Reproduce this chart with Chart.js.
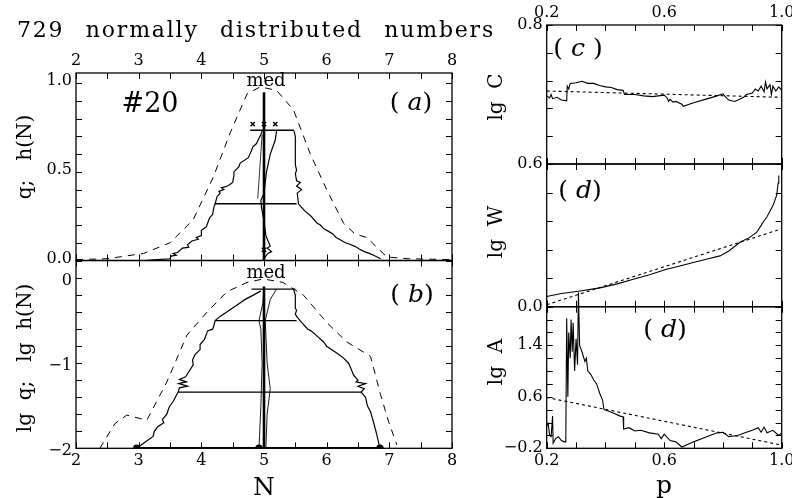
<!DOCTYPE html>
<html lang="en">
<head>
<meta charset="UTF-8">
<title>729 normally distributed numbers</title>
<script src="https://cdn.jsdelivr.net/npm/chart.js"></script>
<style>
    body { margin: 0; background: #fff; }
    #wrap { position: relative; width: 792px; height: 498px; overflow: hidden; }
    canvas { position: absolute; left: 0; top: 0; }
    .t { position: absolute; font-family: 'DejaVu Serif', serif; color: #000; white-space: pre; transform: translate(-50%, -50%); line-height: 1; }
    .rot { transform: translate(-50%, -50%) rotate(-90deg); }
    .it { font-style: italic; }
</style>
</head>
<body>
<div id="wrap">
    <canvas id="cA" width="792" height="498"></canvas>
    <canvas id="cB" width="792" height="498"></canvas>
    <canvas id="cC" width="792" height="498"></canvas>
    <canvas id="cW" width="792" height="498"></canvas>
    <canvas id="cP" width="792" height="498"></canvas>

    <div id="title" class="t" style="left:17px; top:30px; transform:translate(0,-50%); font-size:22px; letter-spacing:1.8px;">729 normally distributed numbers</div>
    <div class="t rot" style="left:24px; top:157px; font-size:20px;">q;   h(N)</div>
    <div class="t rot" style="left:24px; top:358px; font-size:20px;">lg  q;   lg  h(N)</div>
    <div class="t" style="left:264px; top:486px; font-size:25px;">N</div>
    <div class="t" style="left:664px; top:484px; font-size:25px;">p</div>
    <div class="t rot" style="left:495px; top:97px; font-size:20px;">lg  C</div>
    <div class="t rot" style="left:495px; top:232px; font-size:20px;">lg  W</div>
    <div class="t rot" style="left:495px; top:362px; font-size:20px;">lg  A</div>

    <div class="t" style="left:150px; top:102px; font-size:27px;">#20</div>
    <div class="t" style="left:411px; top:101px; font-size:25px;">( <span class="it">a</span>)</div>
    <div class="t" style="left:412px; top:293px; font-size:25px;">( <span class="it">b</span>)</div>
    <div class="t" style="left:578px; top:47px; font-size:25px;">( <span class="it">c</span> )</div>
    <div class="t" style="left:580px; top:189px; font-size:25px;">( <span class="it">d</span>)</div>
    <div class="t" style="left:665px; top:328px; font-size:25px;">( <span class="it">d</span>)</div>
    <div class="t" style="left:266px; top:80px; font-size:18px;">med</div>
    <div class="t" style="left:266px; top:272px; font-size:18px;">med</div>
</div>

<script>
// ---- tick labels ----
const nLabels = [2, 3, 4, 5, 6, 7, 8];
const pLabels = [0.2, 0.6, 1.0];
const hLabels = [0.0, 0.5, 1.0];
const lgHLabels = [0, -1, -2];
const cLabels = [0.6, 0.8];
const wLabels = [0.0];
const aLabels = [-0.2, 0.6, 1.4];

// ---- (a) q; h(N) ----
const hDash = [[2.0,0.005],[2.5,0.01],[3.08,0.04],[3.5,0.10],[3.87,0.23],[4.19,0.47],[4.46,0.72],[4.73,0.94],[4.94,0.98],[5.2,0.96],[5.47,0.85],[5.74,0.60],[6.0,0.40],[6.27,0.21],[6.45,0.15],[6.64,0.13],[6.96,0.02],[7.3,0.01],[8.0,0.005]];
const hLeft = [[3.1,0.0],[3.3,0.005],[3.5,0.01],[3.52,0.025],[3.6,0.03],[3.55,0.04],[3.62,0.045],[3.7,0.07],[3.8,0.075],[3.78,0.09],[3.85,0.11],[3.95,0.12],[3.92,0.13],[4.0,0.14],[4.0,0.17],[4.08,0.19],[4.1,0.21],[4.13,0.24],[4.18,0.26],[4.2,0.30],[4.22,0.32],[4.25,0.36],[4.3,0.38],[4.28,0.39],[4.36,0.40],[4.32,0.41],[4.42,0.42],[4.5,0.44],[4.52,0.48],[4.52,0.50],[4.6,0.53],[4.62,0.55],[4.75,0.58],[4.8,0.62],[4.82,0.64],[4.88,0.66],[4.92,0.69],[4.95,0.71],[4.97,0.73]];
const hRight = [[5.48,0.73],[5.5,0.70],[5.5,0.60],[5.5,0.54],[5.52,0.51],[5.5,0.49],[5.52,0.45],[5.58,0.44],[5.52,0.42],[5.6,0.40],[5.53,0.38],[5.55,0.32],[5.6,0.30],[5.65,0.28],[5.72,0.26],[5.75,0.25],[5.8,0.23],[5.85,0.21],[5.9,0.20],[5.95,0.18],[6.05,0.16],[6.1,0.15],[6.15,0.13],[6.2,0.12],[6.3,0.10],[6.38,0.09],[6.45,0.08],[6.52,0.065],[6.6,0.05],[6.68,0.04],[6.75,0.03],[6.86,0.01]];
const hMid = [[4.98,0.0],[5.06,0.04],[5.12,0.05],[5.05,0.07],[5.1,0.08],[5.03,0.14],[5.0,0.22],[4.96,0.30],[4.95,0.34],[5.0,0.38],[5.04,0.50],[5.1,0.60],[5.18,0.68],[5.2,0.73]];
const hThin = [[4.9,0.35],[4.97,0.71]];
const hLevels = [[4.78, 5.48, 0.735], [4.22, 5.52, 0.32]];
const hMed = [[5.0,0.0],[5.0,0.95]];
const hMarks = [[4.82,0.77],[5.0,0.77],[5.18,0.77],[5.0,0.06]];

// ---- (b) lg q; lg h(N) ----
const gDash = [[2.38,-2.0],[2.62,-1.71],[2.81,-1.61],[3.13,-1.67],[3.45,-1.22],[3.77,-0.67],[4.09,-0.40],[4.41,-0.16],[4.73,-0.05],[4.99,-0.01],[5.3,-0.05],[5.63,-0.20],[6.0,-0.52],[6.32,-0.75],[6.59,-0.87],[6.7,-0.92],[6.86,-1.37],[6.99,-1.69],[7.12,-1.96]];
const gLeft = [[2.97,-2.0],[3.1,-1.93],[3.23,-1.86],[3.25,-1.80],[3.3,-1.75],[3.4,-1.70],[3.38,-1.66],[3.45,-1.60],[3.48,-1.53],[3.5,-1.50],[3.55,-1.45],[3.6,-1.38],[3.63,-1.34],[3.65,-1.29],[3.78,-1.27],[3.64,-1.24],[3.76,-1.22],[3.65,-1.19],[3.75,-1.16],[3.8,-1.10],[3.87,-1.02],[3.86,-0.96],[3.9,-0.90],[3.98,-0.84],[3.98,-0.78],[4.05,-0.72],[4.1,-0.62],[4.18,-0.60],[4.2,-0.56],[4.22,-0.50],[4.3,-0.45],[4.4,-0.40],[4.5,-0.35],[4.6,-0.30],[4.7,-0.25],[4.83,-0.20],[4.95,-0.15]];
const gRight = [[5.47,-0.13],[5.5,-0.20],[5.5,-0.35],[5.52,-0.38],[5.5,-0.42],[5.52,-0.45],[5.6,-0.52],[5.7,-0.60],[5.75,-0.62],[5.83,-0.67],[5.95,-0.75],[6.0,-0.80],[6.1,-0.85],[6.2,-0.90],[6.27,-0.94],[6.35,-1.0],[6.38,-1.05],[6.43,-1.14],[6.5,-1.20],[6.47,-1.22],[6.62,-1.24],[6.5,-1.27],[6.6,-1.30],[6.55,-1.34],[6.62,-1.40],[6.65,-1.50],[6.7,-1.57],[6.75,-1.70],[6.8,-1.84],[6.85,-2.0]];
const gMidL = [[4.92,-2.0],[4.95,-1.5],[4.97,-1.0],[4.95,-0.6],[4.92,-0.5],[4.98,-0.3],[5.0,-0.13]];
const gMidR = [[5.03,-2.0],[5.05,-1.6],[5.1,-1.3],[5.05,-1.0],[5.02,-0.5],[5.1,-0.25],[5.2,-0.13]];
const gLevels = [[4.8, 5.5, -0.13], [4.22, 5.52, -0.50], [3.63, 6.55, -1.34]];
const gBase = [[2.97,-2.0],[4.92,-2.0],[6.85,-2.0]];
const gMed = [[5.0,-2.0],[5.0,-0.1]];

// ---- (c) lg C ----
const cLine = [[0.2,0.698],[0.21,0.695],[0.215,0.700],[0.22,0.694],[0.235,0.696],[0.25,0.692],[0.268,0.691],[0.27,0.712],[0.275,0.708],[0.28,0.716],[0.30,0.717],[0.32,0.719],[0.34,0.716],[0.36,0.716],[0.38,0.713],[0.40,0.711],[0.42,0.710],[0.44,0.707],[0.46,0.706],[0.465,0.700],[0.50,0.700],[0.53,0.698],[0.56,0.697],[0.58,0.698],[0.60,0.699],[0.61,0.695],[0.615,0.690],[0.62,0.693],[0.63,0.689],[0.64,0.690],[0.66,0.686],[0.665,0.683],[0.70,0.688],[0.74,0.693],[0.78,0.698],[0.80,0.701],[0.81,0.696],[0.82,0.692],[0.84,0.690],[0.86,0.694],[0.87,0.696],[0.88,0.700],[0.90,0.702],[0.91,0.708],[0.92,0.705],[0.93,0.712],[0.94,0.704],[0.945,0.718],[0.95,0.708],[0.96,0.714],[0.965,0.700],[0.97,0.712],[0.98,0.705],[0.99,0.711],[1.0,0.706]];
const cFit = [[0.2,0.705],[1.0,0.696]];

// ---- (d) lg W ----
const wLine = [[0.2,0.036],[0.25,0.046],[0.308,0.054],[0.381,0.066],[0.44,0.080],[0.495,0.096],[0.55,0.112],[0.608,0.131],[0.65,0.142],[0.699,0.155],[0.75,0.168],[0.790,0.178],[0.82,0.195],[0.858,0.226],[0.89,0.242],[0.915,0.261],[0.93,0.285],[0.937,0.297],[0.95,0.315],[0.971,0.356],[0.983,0.391],[0.988,0.433],[0.99,0.46]];
const wFit = [[0.2,0.007],[1.0,0.273]];

// ---- (d) lg A ----
const aLine = [[0.2,0.15],[0.205,0.19],[0.21,0.0],[0.215,-0.02],[0.22,0.30],[0.222,-0.12],[0.23,-0.05],[0.24,-0.02],[0.25,-0.08],[0.26,-0.10],[0.265,-0.10],[0.268,1.82],[0.272,0.60],[0.275,1.60],[0.28,1.20],[0.283,1.80],[0.287,1.30],[0.29,1.75],[0.295,1.00],[0.30,1.50],[0.305,1.10],[0.308,2.22],[0.312,1.40],[0.32,1.30],[0.33,1.15],[0.335,1.20],[0.34,1.00],[0.35,0.95],[0.36,0.86],[0.37,0.80],[0.38,0.66],[0.39,0.55],[0.395,0.40],[0.41,0.38],[0.43,0.34],[0.45,0.30],[0.46,0.29],[0.462,0.10],[0.48,0.12],[0.50,0.07],[0.52,0.08],[0.55,0.04],[0.58,0.02],[0.59,-0.05],[0.60,0.02],[0.62,-0.08],[0.64,-0.10],[0.66,-0.18],[0.70,-0.10],[0.74,-0.03],[0.78,0.04],[0.80,0.05],[0.82,-0.02],[0.85,0.0],[0.88,0.05],[0.90,0.08],[0.92,0.12],[0.93,0.05],[0.94,0.13],[0.95,0.04],[0.97,0.08],[0.99,0.0],[1.0,0.04]];
const aFit = [[0.2,0.59],[1.0,-0.15]];

const W = 792, H = 498;
const FONT = "'DejaVu Serif', serif";

function pts(arr) { return arr.map(p => ({ x: p[0], y: p[1] })); }
function line(arr, opts) {
    return Object.assign({ data: pts(arr), showLine: true, pointRadius: 0, borderColor: '#000', borderWidth: 1.2, fill: false }, opts || {});
}
function levels(arr, w) {
    return arr.map(l => line([[l[0], l[2]], [l[1], l[2]]], { borderWidth: w }));
}
function range(a, b, s) { const out = []; for (let v = a; v <= b + 1e-9; v += s) out.push(+v.toFixed(4)); return out; }
function fmt(v, d) { const s = d ? Math.abs(v).toFixed(d) : String(Math.abs(v)); return (v < 0 ? '\u2212' : '') + s; }

// frame with inward ticks on four sides and tick labels
const framePlugin = {
    id: 'frame',
    afterDatasetsDraw(chart, args, o) {
        const ctx = chart.ctx, a = chart.chartArea, xs = chart.scales.x, ys = chart.scales.y;
        ctx.save();
        ctx.strokeStyle = '#000';
        ctx.lineWidth = 1.3;
        ctx.strokeRect(a.left, a.top, a.right - a.left, a.bottom - a.top);
        ctx.lineWidth = 1;
        ctx.beginPath();
        o.xTicks.forEach(v => {
            const px = Math.round(xs.getPixelForValue(v)) + 0.5;
            ctx.moveTo(px, a.bottom); ctx.lineTo(px, a.bottom - 6);
            ctx.moveTo(px, a.top); ctx.lineTo(px, a.top + 6);
        });
        o.yTicks.forEach(v => {
            const py = Math.round(ys.getPixelForValue(v)) + 0.5;
            ctx.moveTo(a.left, py); ctx.lineTo(a.left + 6, py);
            ctx.moveTo(a.right, py); ctx.lineTo(a.right - 6, py);
        });
        ctx.stroke();
        ctx.fillStyle = '#000';
        ctx.font = '16px ' + FONT;
        ctx.textAlign = 'center';
        ctx.textBaseline = 'middle';
        (o.xTop || []).forEach(v => ctx.fillText(fmt(v, o.xDec), xs.getPixelForValue(v), a.top - 12));
        (o.xBottom || []).forEach(v => ctx.fillText(fmt(v, o.xDec), xs.getPixelForValue(v), a.bottom + 13));
        ctx.textAlign = 'right';
        (o.yLeft || []).forEach(v => ctx.fillText(fmt(v, o.yDec), a.left - 4, ys.getPixelForValue(v) + (o.yShift || 0)));
        ctx.restore();
    }
};

function makeChart(id, box, xr, yr, datasets, frame) {
    return new Chart(document.getElementById(id), {
        type: 'scatter',
        data: { datasets: datasets },
        options: {
            responsive: false,
            animation: false,
            events: [],
            layout: { padding: { left: box[0], top: box[1], right: W - box[2], bottom: H - box[3] } },
            scales: {
                x: { type: 'linear', display: false, min: xr[0], max: xr[1] },
                y: { type: 'linear', display: false, min: yr[0], max: yr[1] }
            },
            plugins: { legend: { display: false }, tooltip: { enabled: false }, frame: frame }
        },
        plugins: [framePlugin]
    });
}

const dash = { borderDash: [7, 6], borderWidth: 1 };
const dot = { borderDash: [3, 3], borderWidth: 1.1 };

makeChart('cA', [76, 73, 452, 260.5], [2, 8], [0, 1.058], [
    line(hDash, dash),
    line(hLeft), line(hRight), line(hMid), line(hThin, { borderWidth: 0.8 }),
    ...levels(hLevels, 1.4),
    line(hMed, { borderWidth: 2.6 }),
    { data: pts(hMarks), pointStyle: 'crossRot', pointRadius: 3, borderColor: '#000', borderWidth: 1.5 }
], { xTicks: range(2, 8, 0.5), yTicks: range(0, 1, 0.1), xTop: nLabels, yLeft: hLabels, yDec: 1, yShift: -2 });

makeChart('cB', [76, 260.5, 452, 448.3], [2, 8], [-2, 0.207], [
    line(gDash, dash),
    line(gLeft), line(gRight), line(gMidL, { borderWidth: 0.9 }), line(gMidR, { borderWidth: 0.9 }),
    ...levels(gLevels, 1.3),
    line(gBase, { borderWidth: 2.6, pointRadius: 2.5, pointBackgroundColor: '#000' }),
    line(gMed, { borderWidth: 2.6 })
], { xTicks: range(2, 8, 0.5), yTicks: range(-2, 0.2, 0.2), xBottom: nLabels, yLeft: lgHLabels, yShift: 3 });

makeChart('cC', [546.7, 25, 781.7, 164], [0.2, 1.0], [0.6, 0.8], [
    line(cFit, dot), line(cLine, { borderWidth: 1.1 })
], { xTicks: range(0.2, 1.0, 0.1), yTicks: range(0.6, 0.8, 0.04), xTop: pLabels, xDec: 1, yLeft: cLabels, yDec: 1 });

makeChart('cW', [546.7, 164, 781.7, 306.7], [0.2, 1.0], [0, 0.5], [
    line(wFit, dot), line(wLine, { borderWidth: 1.1 })
], { xTicks: range(0.2, 1.0, 0.1), yTicks: range(0, 0.5, 0.1), yLeft: wLabels, yDec: 1 });

makeChart('cP', [546.7, 306.7, 781.7, 448.3], [0.2, 1.0], [-0.2, 2.0], [
    line(aFit, dot), line(aLine, { borderWidth: 1.1, clip: { left: 1, top: 18, right: 1, bottom: 1 } })
], { xTicks: range(0.2, 1.0, 0.1), yTicks: range(-0.2, 2.0, 0.2), xBottom: pLabels, xDec: 1, yLeft: aLabels, yDec: 1 });

// widen the gaps between words so the title spans its original width
(function () {
    const el = document.getElementById('title');
    const natural = el.getBoundingClientRect().width;
    const gaps = el.textContent.split(' ').length - 1;
    el.style.wordSpacing = Math.max(0, (478 - natural) / gaps).toFixed(2) + 'px';
})();
</script>
</body>
</html>
